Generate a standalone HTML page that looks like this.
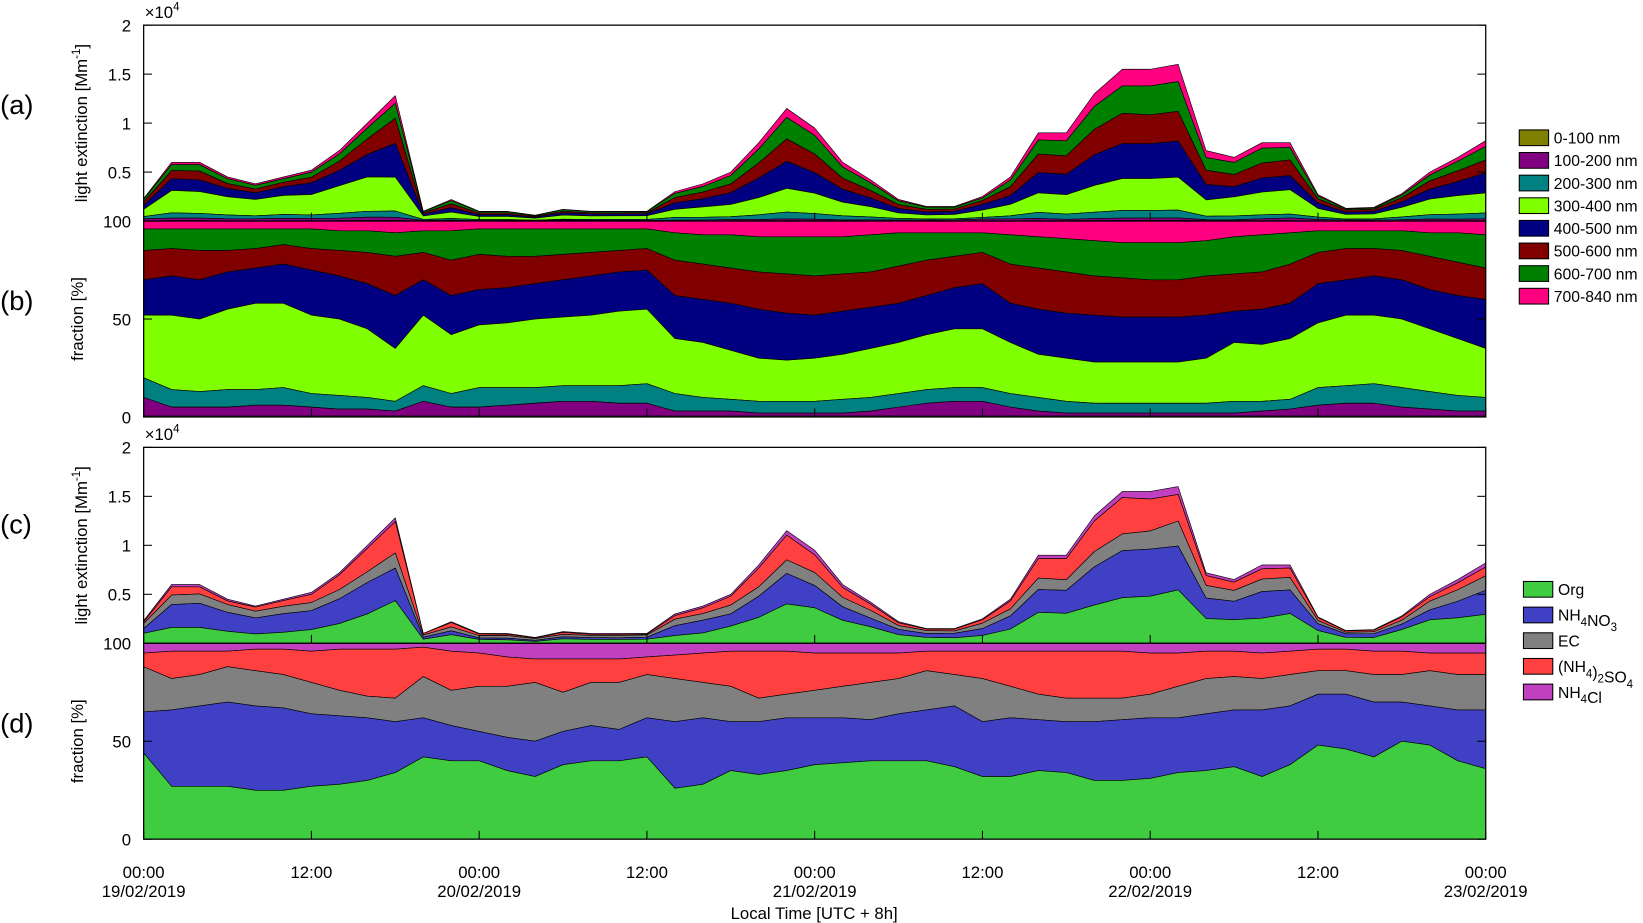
<!DOCTYPE html>
<html><head><meta charset="utf-8"><style>
html,body{margin:0;padding:0;background:#fff;}
svg{display:block;font-family:"Liberation Sans",Arial,sans-serif;}
</style></head><body>
<svg id="chart" width="1643" height="923" viewBox="0 0 1568 881" xmlns="http://www.w3.org/2000/svg"></svg>
<script>
// ---- data (2-hour grid from 00:00 19/02/2019) ----
const hours = [0,2,4,6,8,10,12,14,16,18,20,22,24,26,28,30,32,34,36,38,40,42,44,46,48,50,52,54,56,58,60,62,64,66,68,70,72,74,76,78,80,82,84,86,88,90,92,94,96];
const totalExt = [.23,.6,.6,.45,.38,.45,.52,.72,1.0,1.28,.1,.22,.1,.1,.06,.12,.1,.1,.1,.3,.38,.5,.8,1.15,.95,.6,.42,.22,.15,.15,.25,.45,.9,.9,1.3,1.55,1.55,1.6,.72,.65,.8,.8,.27,.13,.14,.28,.5,.65,.82];
// size-bin cumulative tops (%)
const top0_100 = hours.map(()=>0.5);
const top100_200 = [10,5,5,5,6,6,5,4,4,3,8,5,5,6,7,8,8,7,7,3,3,3,2,2,2,2,3,5,7,8,8,5,3,2,2,2,2,2,2,2,3,4,6,7,7,5,4,3,3];
const top200_300 = [20,14,13,14,14,15,12,11,10,8,16,12,15,15,15,16,16,16,17,12,10,9,8,8,8,9,10,12,14,15,15,12,10,8,7,7,7,7,7,8,8,9,15,16,17,15,13,11,10];
const top300_400 = [52,52,50,55,58,58,52,50,45,35,52,42,47,48,50,51,52,54,55,40,38,34,30,29,30,32,35,38,42,45,45,38,32,30,28,28,28,28,30,38,37,40,48,52,52,50,45,40,35];
const top400_500 = [70,72,70,74,76,78,75,72,68,62,70,62,65,66,68,70,72,74,75,62,60,58,55,53,52,54,56,58,62,66,68,58,55,53,52,51,51,51,52,54,55,58,68,70,72,70,65,62,60];
const top500_600 = [85,86,85,85,86,88,86,85,84,82,84,80,83,82,82,83,84,85,86,80,78,76,74,73,72,73,74,77,80,82,84,78,76,74,72,71,70,70,72,73,74,78,84,86,86,85,82,79,76];
const top600_700 = [96,96,96,96,96,96,96,95,95,94,95,95,96,96,96,96,96,96,96,94,93,93,92,92,92,92,93,94,94,94,94,93,92,91,90,89,89,89,90,92,93,94,95,95,95,95,94,94,93];
const top700_840 = hours.map(()=>100);
// chemical cumulative tops (%)
const topOrg = [44,27,27,27,25,25,27,28,30,34,42,40,40,35,32,38,40,40,42,26,28,35,33,35,38,39,40,40,40,37,32,32,35,34,30,30,31,34,35,37,32,38,48,46,42,50,48,40,36];
const topNH4NO3 = [65,66,68,70,68,67,64,63,62,60,62,58,55,52,50,55,58,56,62,60,62,60,60,62,62,62,61,64,66,68,60,62,61,60,60,61,62,62,64,66,66,68,74,74,70,70,68,66,66];
const topEC = [88,82,84,88,86,84,80,76,73,72,83,76,78,78,80,75,80,80,84,82,80,78,72,74,76,78,80,82,86,84,82,78,74,72,72,72,74,78,82,83,82,84,86,86,84,84,86,84,84];
const topSO4 = [95,96,96,96,97,97,96,97,97,97,98,96,95,93,92,92,92,92,93,94,95,96,96,96,95,95,95,95,96,96,96,96,96,96,96,96,95,95,96,96,95,96,97,97,96,96,95,95,95];
const topNH4Cl = hours.map(()=>100);
const sizeLabels = ["0-100 nm","100-200 nm","200-300 nm","300-400 nm","400-500 nm","500-600 nm","600-700 nm","700-840 nm"];
const chemLabels = ["Org","NH4NO3","EC","(NH4)2SO4","NH4Cl"];
const xTickHours = [0,12,24,36,48,60,72,84,96];
const xTickTimes = ["00:00","12:00","00:00","12:00","00:00","12:00","00:00","12:00","00:00"];
const xTickDates = ["19/02/2019","","20/02/2019","","21/02/2019","","22/02/2019","","23/02/2019"];
const extTicks = [0,0.5,1,1.5,2];
const extTickLabels = ["0","0.5","1","1.5","2"];
const fracTicks = [0,50,100];

const sizeTops=[top0_100,top100_200,top200_300,top300_400,top400_500,top500_600,top600_700,top700_840];
const sizeColors=["#808000","#800080","#008080","#80ff00","#000080","#800000","#008000","#ff0080"];
const chemTops=[topOrg,topNH4NO3,topEC,topSO4,topNH4Cl];
const chemColors=["#40cc40","#4040c4","#808080","#ff4040","#c040c0"];

const NS="http://www.w3.org/2000/svg";
const svg=document.getElementById('chart');
function el(tag,attrs,parent){const e=document.createElementNS(NS,tag);for(const k in attrs)e.setAttribute(k,attrs[k]);(parent||svg).appendChild(e);return e;}
const X0=137,X1=1418;
const xs=h=>X0+(h-hours[0])/(96)*(X1-X0);
function yLin(v,vmin,vmax,ybot,ytop){return ybot-(v-vmin)/(vmax-vmin)*(ybot-ytop);}

const panels=[
 {name:'a',ytop:24,ybot:211,abs:true,tops:sizeTops,colors:sizeColors,names:sizeLabels,ly:100},
 {name:'b',ytop:211,ybot:398,abs:false,tops:sizeTops,colors:sizeColors,names:sizeLabels,ly:287},
 {name:'c',ytop:427,ybot:614,abs:true,tops:chemTops,colors:chemColors,names:chemLabels,ly:500},
 {name:'d',ytop:614,ybot:801,abs:false,tops:chemTops,colors:chemColors,names:chemLabels,ly:690}
];
panels.forEach(p=>{
  const g=el('g',{});
  
  
  const yv=v=>p.abs?yLin(v,0,2,p.ybot,p.ytop):yLin(v,0,100,p.ybot,p.ytop);
  const val=(s,i)=>p.abs? totalExt[i]*p.tops[s][i]/100 : p.tops[s][i];
  for(let s=p.tops.length-1;s>=0;s--){
    let d='';
    hours.forEach((h,i)=>{d+=(i?'L':'M')+xs(h).toFixed(1)+','+yv(val(s,i)).toFixed(1);});
    for(let i=hours.length-1;i>=0;i--){const lo=s?val(s-1,i):0;d+='L'+xs(hours[i]).toFixed(1)+','+yv(lo).toFixed(1);}
    const a=el('path',{d:d+'Z',fill:p.colors[s],stroke:'#000','stroke-width':0.6,'stroke-linejoin':'round'},g);
    
    
  }
  const f=el('rect',{x:X0,y:p.ytop,width:X1-X0,height:p.ybot-p.ytop,fill:'none',stroke:'#000','stroke-width':1.2},g);
  
  
  const ticks=p.abs?extTicks:fracTicks;
  ticks.forEach((t,i)=>{
    if(p.abs&&t===0)return;
    const y=yv(t);
    el('line',{x1:X0,x2:X0+8,y1:y,y2:y,stroke:'#000'},g);
    el('line',{x1:X1,x2:X1-8,y1:y,y2:y,stroke:'#000'},g);
    const tx=el('text',{x:X0-12,y:y+6,'text-anchor':'end','font-size':16},g);
    tx.textContent=p.abs?extTickLabels[i]:String(t);
    
    
  });
  xTickHours.forEach(h=>{
    el('line',{x1:xs(h),x2:xs(h),y1:p.ybot,y2:p.ybot-8,stroke:'#000'},g);
  });
  const pl=el('text',{x:0,y:p.ly+9,'font-size':26},g);
  pl.textContent='('+p.name+')';
  
  
  const cy=(p.ytop+p.ybot)/2;
  const yt=el('text',{x:0,y:0,'font-size':16,'text-anchor':'middle',transform:`translate(${p.abs?83:79},${cy}) rotate(-90)`},g);
  
  
  if(p.abs){yt.innerHTML='light extinction [Mm<tspan dy="-7" font-size="11">-1</tspan><tspan dy="7">]</tspan>';}
  else yt.textContent='fraction [%]';
  if(p.abs){
    const m=el('text',{x:138,y:p.ytop-7,'font-size':16},g);
    m.innerHTML='×10<tspan dy="-7" font-size="11">4</tspan>';
    
    
  }
});
xTickHours.forEach((h,i)=>{
  const t=el('text',{x:xs(h),y:838,'font-size':16,'text-anchor':'middle'});
  t.textContent=xTickTimes[i];
  
  
  if(xTickDates[i]){
    const d=el('text',{x:xs(h),y:856,'font-size':16,'text-anchor':'middle'});
    d.textContent=xTickDates[i];
    
    
  }
});
const xt=el('text',{x:777,y:877,'font-size':16,'text-anchor':'middle'});
xt.textContent='Local Time [UTC + 8h]';


function legend(labels,colors,x,y0,dy,name,sub){
  const g=el('g',{});
  
  
  labels.forEach((l,i)=>{
    const y=y0+i*dy;
    const r=el('rect',{x:x,y:y,width:28,height:15,fill:colors[i],stroke:'#000','stroke-width':1},g);
    
    
    const t=el('text',{x:x+33,y:y+13,'font-size':15},g);
    
    
    if(sub){t.innerHTML=l.replace(/(\d)/g,'<tspan dy="5" font-size="11">$1</tspan><tspan dy="-5"></tspan>');}
    else t.textContent=l;
  });
}
legend(sizeLabels,sizeColors,1450,124,21.6,'legend-size-bins',false);
legend(chemLabels,chemColors,1454,555,24.5,'legend-chemistry',true);
</script>
</body></html>
